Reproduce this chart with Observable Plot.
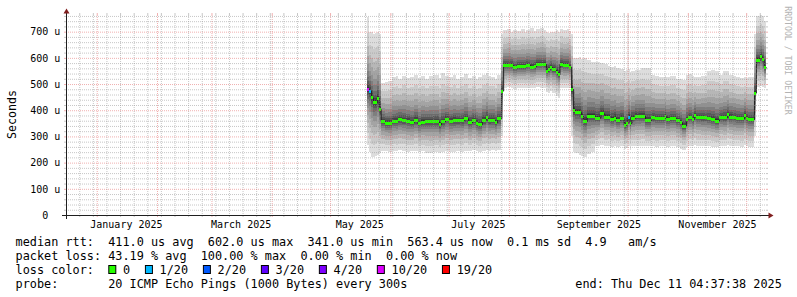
<!DOCTYPE html>
<html><head><meta charset="utf-8">
<script src="https://cdn.jsdelivr.net/npm/d3@7"></script>
<script src="https://cdn.jsdelivr.net/npm/@observablehq/plot@0.6"></script>
<style>
html,body{margin:0;padding:0;background:#fff;}
#chart{width:797px;height:297px;overflow:hidden;background:#fff}
svg{display:block}
</style></head><body><div id="chart"></div>
<script>
// ---- time range of the graph (last 360 days) ----
const startTime = new Date("2024-12-16T04:37:38Z");
const endTime = new Date("2025-12-11T04:37:38Z");

// ---- data rows (each row lasts until the next one) ----
const dates = ["2025-05-20","2025-05-21","2025-05-22","2025-05-23","2025-05-24","2025-05-25","2025-05-26","2025-05-27","2025-05-29","2025-05-31",
"2025-06-02","2025-06-04","2025-06-05","2025-06-07","2025-06-09","2025-06-11","2025-06-13","2025-06-15","2025-06-17","2025-06-19","2025-06-21","2025-06-23","2025-06-26","2025-06-27","2025-06-29",
"2025-07-01","2025-07-03","2025-07-05","2025-07-07","2025-07-09","2025-07-11","2025-07-13","2025-07-15","2025-07-16","2025-07-18","2025-07-20","2025-07-21","2025-07-23","2025-07-25","2025-07-26","2025-07-28","2025-07-29","2025-07-31",
"2025-08-02","2025-08-03","2025-08-05","2025-08-07","2025-08-09","2025-08-10","2025-08-12","2025-08-14","2025-08-15","2025-08-17","2025-08-19","2025-08-20","2025-08-21","2025-08-22","2025-08-23","2025-08-25","2025-08-26","2025-08-27","2025-08-29","2025-08-31",
"2025-09-01","2025-09-02","2025-09-03","2025-09-04","2025-09-06","2025-09-07","2025-09-08","2025-09-10","2025-09-12","2025-09-14","2025-09-16","2025-09-17","2025-09-19","2025-09-21","2025-09-22","2025-09-24","2025-09-25","2025-09-27","2025-09-29","2025-09-30",
"2025-10-01","2025-10-02","2025-10-03","2025-10-05","2025-10-08","2025-10-10","2025-10-13","2025-10-15","2025-10-17","2025-10-20","2025-10-21","2025-10-23","2025-10-26","2025-10-28","2025-10-29","2025-10-31",
"2025-11-01","2025-11-03","2025-11-04","2025-11-05","2025-11-08","2025-11-11","2025-11-13","2025-11-15","2025-11-17","2025-11-19","2025-11-21","2025-11-22","2025-11-24","2025-11-26","2025-11-28","2025-11-30",
"2025-12-01","2025-12-02","2025-12-05","2025-12-06","2025-12-08","2025-12-09","2025-12-10"];

// median rtt in microseconds
const medianUs = [481,475,449,430,430,448,405,359,352,352,
359,359,365,362,359,354,362,350,356,357,357,357,346,357,367,
359,362,362,362,369,354,362,352,346,362,373,362,362,354,369,475,573,573,
573,564,568,568,568,573,566,568,577,577,577,551,556,566,556,547,537,577,573,573,
566,481,401,394,394,378,359,378,378,372,372,388,375,375,367,372,362,369,344,350,
375,352,372,378,378,362,373,369,369,378,365,369,362,354,340,365,
373,365,382,373,373,369,365,359,373,373,384,375,373,369,369,382,
369,365,467,593,607,594,564];

// fastest ping (bottom of smoke) in microseconds
const minUs = [267,240,223,223,226,230,235,245,244,242,
245,243,247,245,240,244,246,240,243,238,236,240,236,240,244,
240,242,245,242,246,244,248,244,240,246,248,245,248,246,248,300,485,487,
484,482,485,486,483,486,484,485,487,486,484,470,466,472,465,455,447,483,485,486,
484,300,240,235,228,225,222,232,240,262,265,268,262,265,260,263,258,262,252,255,
262,250,262,262,265,262,262,260,263,265,260,262,258,252,248,260,
265,262,268,264,262,262,260,258,264,262,268,265,263,262,260,266,
262,260,300,490,492,488,484];

// slowest ping (top of smoke) in microseconds
const maxUs = [757,700,700,690,696,700,690,505,508,512,
526,530,520,532,522,528,536,524,530,520,530,533,522,542,530,
525,534,520,528,537,522,531,518,525,536,541,530,527,520,535,690,705,712,
700,708,703,710,700,706,713,702,710,715,705,700,695,700,698,705,700,712,706,712,
704,690,600,598,602,596,600,590,585,583,585,580,575,570,565,568,560,558,550,552,
556,545,550,555,560,560,535,532,528,530,527,532,520,518,515,535,
537,530,528,527,530,550,552,548,536,550,548,535,530,527,522,526,
524,525,690,760,762,758,740];

// lost pings out of 20
const lostPings = [10,1,0,0,0,0,0,0,0,0,
0,0,0,0,0,0,0,0,0,0,0,0,0,0,0,
0,0,0,0,0,0,0,0,0,0,0,0,0,0,0,0,0,0,
0,0,0,0,0,0,0,0,0,0,0,0,0,0,0,0,0,0,0,0,
0,0,0,0,0,0,0,0,0,0,0,0,0,0,0,0,0,0,0,0,
1,0,0,0,0,0,0,0,0,0,0,0,0,0,0,0,
0,0,0,0,0,0,0,0,0,0,0,0,0,0,0,0,
0,0,0,0,0,0,0];

// single outlier ping that reaches above the graph
const outlierDates = ["2025-10-01"];
const outlierUs = [800];

// ---- smoke shading (outer band lightest) ----
const bandReach = [1, 0.78, 0.6, 0.46, 0.34, 0.25, 0.17, 0.11, 0.06, 0.03];
const bandGrey = [221, 202, 183, 164, 145, 126, 107, 88, 69, 50];

// ---- loss colours ----
const lossLabels = ["0","1/20","2/20","3/20","4/20","10/20","19/20"];
const lossThresholds = [0,1,2,3,4,10,19];
const lossColors = ["#26ff00","#00b8ff","#0059ff","#5e00ff","#7e00ff","#dd00ff","#ff0000"];

// ---- axes ----
const yMax = 763.6;
const yTicks = [0,100,200,300,400,500,600,700];
const yTickLabels = ["0","100 u","200 u","300 u","400 u","500 u","600 u","700 u"];
const xLabelDates = ["2025-01-16","2025-03-16","2025-05-16","2025-07-16","2025-09-16","2025-11-16"];
const xLabels = ["January 2025","March 2025","May 2025","July 2025","September 2025","November 2025"];

// ---- legend texts ----
const statMedian = "median rtt:  411.0 us avg  602.0 us max  341.0 us min  563.4 us now  0.1 ms sd  4.9   am/s";
const statLoss = "packet loss: 43.19 % avg  100.00 % max  0.00 % min  0.00 % now";
const statLossTitle = "loss color:";
const statProbe = "probe:       20 ICMP Echo Pings (1000 Bytes) every 300s";
const statEnd = "end: Thu Dec 11 04:37:38 2025";

// ---- build ----
const rows = dates.map((d, i) => ({
  t0: new Date(d + "T00:00:00Z"),
  t1: i + 1 < dates.length ? new Date(dates[i + 1] + "T00:00:00Z") : endTime,
  med: medianUs[i], lo: minUs[i], hi: maxUs[i], lost: lostPings[i]
}));
const lossColorFor = n => { let c = lossColors[0]; lossThresholds.forEach((t, k) => { if (n >= t) c = lossColors[k]; }); return c; };
const stepPts = rows.map(r => ({t: r.t0, v: r.med})).concat([{t: endTime, v: rows[rows.length - 1].med}]);
const outliers = outlierDates.map((d, i) => {
  const t = new Date(d + "T00:00:00Z");
  const r = rows.find(r => +r.t0 === +t);
  return {t, base: r ? r.hi : 0, top: outlierUs[i]};
});

const minorY = d3.range(20, yMax, 20).filter(v => v % 100 !== 0);
const majorY = yTicks.filter(v => v > 0);
const majorX = d3.utcMonth.range(startTime, endTime);
const minorX = d3.utcMonday.range(startTime, endTime).filter(d => d.getUTCDate() !== 1);

const gridC = "rgb(143,143,143)", gridO = 0.5;
const mgridC = "rgb(222,79,79)", mgridO = 0.45;

const gridMarks = (vals, c, o) => [
  Plot.ruleY(vals, {y: d => d, stroke: c, strokeOpacity: o, strokeDasharray: "1,1"}),
  Plot.ruleY(vals, {y: d => d, x1: () => startTime, x2: () => startTime, insetLeft: -2, stroke: c, strokeOpacity: o}),
  Plot.ruleY(vals, {y: d => d, x1: () => endTime, x2: () => endTime, insetRight: -2, stroke: c, strokeOpacity: o})
];
const vgridMarks = (vals, c, o) => [
  Plot.ruleX(vals, {x: d => d, stroke: c, strokeOpacity: o, strokeDasharray: "1,1"}),
  Plot.ruleX(vals, {x: d => d, y1: () => yMax, y2: () => yMax, insetTop: -2, stroke: c, strokeOpacity: o}),
  Plot.ruleX(vals, {x: d => d, y1: () => 0, y2: () => 0, insetBottom: -2, stroke: c, strokeOpacity: o})
];

const chart = Plot.plot({
  width: 797, height: 230,
  marginLeft: 66, marginRight: 31, marginTop: 15, marginBottom: 15,
  x: {type: "utc", domain: [startTime, endTime], axis: null},
  y: {domain: [0, yMax], axis: null},
  style: {fontFamily: "'DejaVu Sans Mono'", fontSize: "10px", background: "#fff", color: "black", overflow: "visible"},
  marks: [
    ...bandReach.map((f, k) => Plot.rect(rows, {
      x1: "t0", x2: "t1",
      y1: r => r.med - (r.med - r.lo) * f,
      y2: r => r.med + (r.hi - r.med) * f,
      fill: `rgb(${bandGrey[k]},${bandGrey[k]},${bandGrey[k]})`,
      shapeRendering: "crispEdges"
    })),
    Plot.ruleX(outliers, {x: "t", y1: "base", y2: "top", stroke: "rgb(221,221,221)", clip: true}),
    Plot.line(stepPts, {x: "t", y: "v", curve: "step-after", stroke: "#202020", strokeWidth: 1}),
    Plot.ruleY(rows, {x1: "t0", x2: "t1", y: "med", stroke: r => lossColorFor(r.lost), strokeWidth: 3, shapeRendering: "crispEdges"}),
    ...gridMarks(minorY, gridC, gridO),
    ...vgridMarks(minorX, gridC, gridO),
    ...gridMarks(majorY, mgridC, mgridO),
    ...vgridMarks(majorX, mgridC, mgridO),
    Plot.ruleY([0], {y: d => d, stroke: "#1f1f1f", insetLeft: -4, insetRight: -4}),
    Plot.ruleX([startTime], {x: d => d, stroke: "#1f1f1f", insetTop: -4, insetBottom: -4}),
    Plot.text(yTicks, {y: d => d, text: (d, i) => yTickLabels[i], frameAnchor: "left", dx: -21.3, textAnchor: "middle", lineAnchor: "middle", fontSize: 10, fill: "black"}),
    Plot.text(xLabelDates, {x: d => new Date(d + "T00:00:00Z"), text: (d, i) => xLabels[i], frameAnchor: "bottom", textAnchor: "middle", lineAnchor: "top", dy: 5.4, fontSize: 10, fill: "black"}),
    Plot.text(["Seconds"], {text: d => d, y: () => 385.6, frameAnchor: "left", dx: -54.3, rotate: -90, textAnchor: "middle", lineAnchor: "middle", fontSize: 11.6, fill: "black"}),
    Plot.text(["RRDTOOL / TOBI OETIKER"], {text: d => d, y: () => 591.8, frameAnchor: "right", dx: 21.6, rotate: 90, textAnchor: "middle", lineAnchor: "middle", fontSize: 8.2, fill: "rgb(179,179,179)"})
  ]
});

// axis arrows (rrdtool style)
const svg = d3.select(chart);
const X0 = chart.scale("x").apply(startTime), X1 = chart.scale("x").apply(endTime);
const Y0 = chart.scale("y").apply(0), Y1 = chart.scale("y").apply(yMax);
svg.append("path").attr("fill", "#801f1f")
  .attr("d", `M${X1 + 2.5},${Y0 - 2.5}L${X1 + 2.5},${Y0 + 3.5}L${X1 + 7.5},${Y0 + 0.5}Z`);
svg.append("path").attr("fill", "#801f1f")
  .attr("d", `M${X0 - 2.5},${Y1 - 1.5}L${X0 + 3.5},${Y1 - 1.5}L${X0 + 0.5},${Y1 - 6.5}Z`);

document.getElementById("chart").appendChild(chart);

// ---- legend below the graph ----
const charW = 7.12;
const leg = d3.create("svg").attr("width", 797).attr("height", 67)
  .attr("font-family", "'DejaVu Sans Mono'").attr("font-size", 11.83).style("display", "block");
const addText = (s, x, y, anchor) => leg.append("text").attr("x", x).attr("y", y)
  .attr("text-anchor", anchor || "start").attr("xml:space", "preserve").style("white-space", "pre").attr("fill", "black").text(s);
addText(statMedian, 15.6, 15.6);
addText(statLoss, 15.6, 29.6);
addText(statLossTitle, 15.6, 43.6);
addText(statProbe, 15.6, 57.6);
addText(statEnd, 781.8, 57.6, "end");
let bx = 108.3;
lossLabels.forEach((lab, k) => {
  leg.append("rect").attr("x", bx + 0.5).attr("y", 35.5).attr("width", 7).attr("height", 8)
    .attr("fill", lossColors[k]).attr("stroke", "black").attr("stroke-width", 1);
  addText(lab, bx + 14.7, 43.6);
  bx += 15 + lab.length * charW + 14.5;
});
document.getElementById("chart").appendChild(leg.node());
</script></body></html>
